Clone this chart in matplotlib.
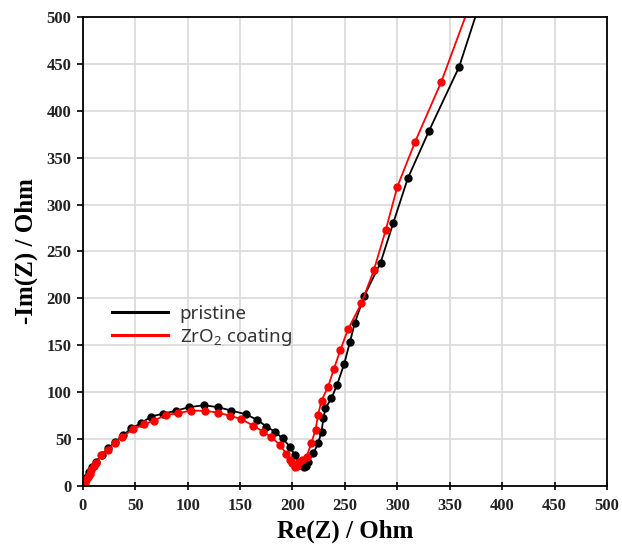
import numpy as np
import matplotlib
matplotlib.use('Agg')
import matplotlib.pyplot as plt

# pristine: Re(Z), -Im(Z) in Ohm
pristine_re = [1, 2, 4, 6, 9, 13, 18, 24, 31, 38.5, 46.5, 56, 65, 76.6, 89.4, 101.4, 115.4, 129,
               141.8, 155.5, 166.6, 175.2, 183.2, 190.5, 197.5, 202.2, 206, 208.6, 211, 213, 215,
               220, 224.5, 227.7, 229.5, 231.5, 237.2, 242.6, 249.3, 254.7, 259.5, 268.4, 284, 296,
               310, 330, 359, 386]
pristine_im = [2, 6, 10, 15, 20, 26, 33, 40, 47, 54, 61.5, 67, 74, 77, 80.3, 84, 86, 84,
               80.3, 76.4, 70.4, 63.2, 57.9, 50.8, 41.9, 33, 26, 22.4, 20, 21, 26,
               35, 45.5, 58, 72, 83, 93.5, 108, 130, 153, 174, 202.5, 238, 280,
               328, 378, 447, 540]

# ZrO2 coating
coat_re = [0.5, 1.9, 3.5, 5.1, 6.5, 8.3, 10.5, 13.1, 17.8, 24.1, 30.5, 37.8, 48, 58.5, 67.7, 79.2,
           91, 103, 117, 129, 140, 151.4, 162.5, 172, 180, 188, 194.3, 198, 200, 202, 204, 206,
           209, 213.4, 218, 222, 224.5, 227.7, 234, 239.4, 245.7, 253, 265.8, 277.6, 289, 300,
           317, 342, 378]
coat_im = [1, 3, 6, 10, 13, 17, 21, 24, 33, 38.4, 46.2, 52.6, 60.4, 65.8, 69.6, 75.7,
           77.5, 80.3, 80, 78.2, 75, 71.1, 64.3, 57.9, 51.9, 43.7, 34.1, 28, 24, 20, 21, 25,
           28, 31.2, 45.5, 60, 76, 91, 105.8, 124.4, 145, 167, 194.8, 230, 273, 319,
           367, 431, 540]

ticks = np.arange(0, 501, 50)

fig = plt.figure(figsize=(6.22, 5.46), dpi=100)
ax = fig.add_axes([0.133, 0.110, 0.843, 0.859])

ax.plot(pristine_re, pristine_im, color='black', lw=1.3, marker='o', ms=5, label='pristine')
ax.plot(coat_re, coat_im, color='red', lw=1.3, marker='o', ms=5, label='ZrO$_\\mathregular{2}$ coating')

ax.set_xlim(0, 500)
ax.set_ylim(0, 500)
ax.set_xticks(ticks)
ax.set_yticks(ticks)
ax.grid(True, color='#d9d9d9', lw=1.2)
ax.set_axisbelow(True)
for s in ax.spines.values():
    s.set_linewidth(1.3)
ax.tick_params(axis='y', direction='out', length=4, width=1.2, pad=4)
ax.tick_params(axis='x', direction='inout', length=6, width=1.2, pad=6)
for lab in ax.get_xticklabels() + ax.get_yticklabels():
    lab.set_family('Liberation Serif')
    lab.set_fontweight('bold')
    lab.set_fontsize(12)
    lab.set_color('#222222')

ax.set_xlabel('Re(Z) / Ohm', family='Liberation Serif', fontweight='bold', fontsize=18, labelpad=4)
ax.set_ylabel('-Im(Z) / Ohm', family='Liberation Serif', fontweight='bold', fontsize=18, labelpad=6)

leg = ax.legend(loc='upper left', bbox_to_anchor=(0.056, 0.386), frameon=False, borderpad=0,
                borderaxespad=0, handlelength=3.0, handletextpad=0.6, labelspacing=0.15,
                prop={'family': 'Noto Sans', 'size': 13.5})
for h in leg.legend_handles:
    h.set_marker('')
    h.set_linewidth(2.2)
for t in leg.get_texts():
    t.set_color('#333333')

plt.savefig('out.png', dpi=100)
